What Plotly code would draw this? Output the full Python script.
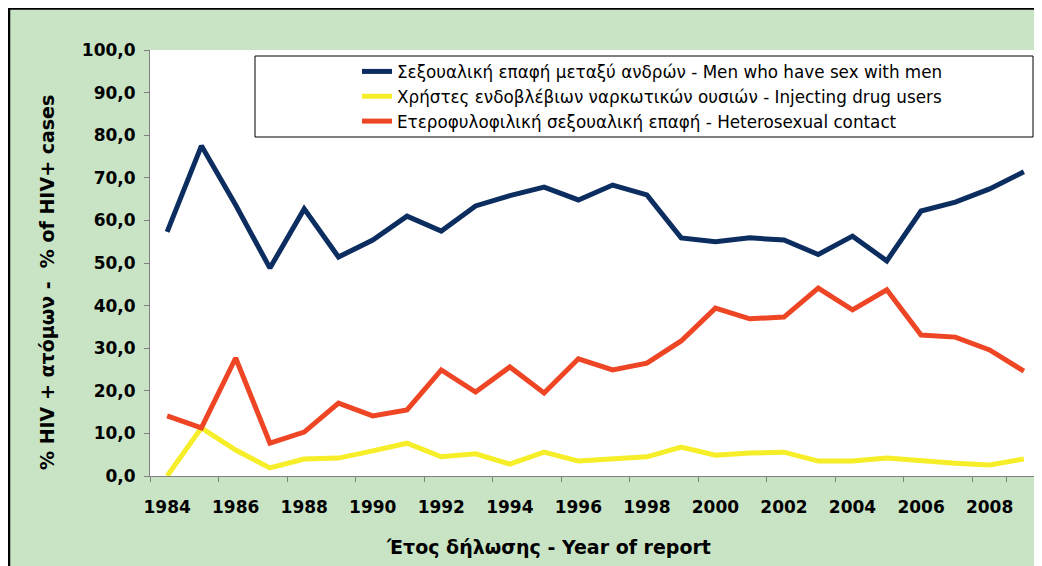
import plotly.graph_objects as go

years = [str(y) for y in range(1984, 2010)]

msm = [57.3, 77.5, 63.6, 48.8, 62.7, 51.4, 55.4, 61.0, 57.5, 63.4, 65.8, 67.8, 64.8,
       68.3, 66.0, 55.9, 55.0, 55.9, 55.4, 52.0, 56.3, 50.5, 62.2, 64.3, 67.4, 71.4]
idu = [0.0, 11.3, 6.1, 1.9, 4.0, 4.2, 5.9, 7.7, 4.5, 5.2, 2.8, 5.6, 3.5,
       4.0, 4.5, 6.8, 4.9, 5.4, 5.6, 3.5, 3.5, 4.2, 3.5, 3.0, 2.6, 4.0]
hetero = [14.1, 11.3, 27.7, 7.7, 10.3, 17.1, 14.1, 15.5, 24.9, 19.7, 25.6, 19.5, 27.5,
          24.9, 26.5, 31.7, 39.4, 36.9, 37.3, 44.1, 39.0, 43.7, 33.1, 32.6, 29.6, 24.6]

names = [
    "Σεξουαλική επαφή μεταξύ ανδρών - Men who have sex with men",
    "Χρήστες ενδοβλέβιων ναρκωτικών ουσιών - Injecting drug users",
    "Ετεροφυλοφιλική σεξουαλική επαφή - Heterosexual contact",
]
colors = ["#0b2d5f", "#f6ee28", "#ee4525"]

# page has an 8px body margin, so the figure itself is 1034 x 558
W, H = 1034, 558
L, T, R, B = 142, 42, 1, 90
pw, ph = W - L - R, H - T - B


def px_x(x):
    return (x - L) / pw


def px_y(y):
    return (H - B - y) / ph


fig = go.Figure()
for vals, name, col in zip([msm, idu, hetero], names, colors):
    fig.add_trace(go.Scatter(x=years, y=vals, name=name, mode="lines",
                             line=dict(color=col, width=5)))

bold = dict(family="DejaVu Sans", size=17, color="black", weight="bold")
title_font = dict(family="DejaVu Sans", size=19, color="black", weight="bold")

fig.update_layout(
    width=W, height=H,
    margin=dict(l=L, r=R, t=T, b=B, autoexpand=False),
    paper_bgcolor="#c8e4c5",
    plot_bgcolor="white",
    separators=",.",
    showlegend=True,
    legend=dict(x=px_x(349), y=px_y(46), xanchor="left", yanchor="top",
                bgcolor="rgba(0,0,0,0)", borderwidth=0,
                font=dict(family="DejaVu Sans", size=16.8, color="black"),
                tracegroupgap=0),
    xaxis=dict(type="category", showline=True, linecolor="#808080", linewidth=1,
               ticks="outside", ticklen=5, tickcolor="#808080", tickson="boundaries",
               tickvals=years[::2], tickangle=0, tickfont=bold, ticklabelstandoff=16,
               showgrid=False, zeroline=False, range=[-0.5, 25.5]),
    yaxis=dict(range=[0, 100], dtick=10, tickformat=".1f", showline=True,
               linecolor="#808080", linewidth=1, ticks="outside", ticklen=5,
               tickcolor="#808080", tickfont=bold, ticklabelstandoff=5,
               showgrid=False, zeroline=False),
    shapes=[
        dict(type="rect", xref="paper", yref="paper", x0=px_x(247), x1=px_x(1025),
             y0=px_y(129), y1=px_y(48), line=dict(color="black", width=1),
             fillcolor="white", layer="below"),
        dict(type="line", xref="paper", yref="paper", x0=px_x(1), x1=px_x(1),
             y0=px_y(0), y1=px_y(H), line=dict(color="black", width=2.5)),
        dict(type="line", xref="paper", yref="paper", x0=px_x(0), x1=px_x(W),
             y0=px_y(0.5), y1=px_y(0.5), line=dict(color="black", width=2.5)),
    ],
    annotations=[
        dict(text="Έτος δήλωσης - Year of report", xref="paper", yref="paper",
             x=px_x(540), y=px_y(539), xanchor="center", yanchor="middle",
             showarrow=False, font=title_font),
        dict(text="% HIV + ατόμων -  % of HIV+ cases", xref="paper", yref="paper",
             x=px_x(39), y=px_y(275), xanchor="center", yanchor="middle",
             showarrow=False, textangle=-90, font=title_font),
    ],
)

fig.write_html("out.html")
